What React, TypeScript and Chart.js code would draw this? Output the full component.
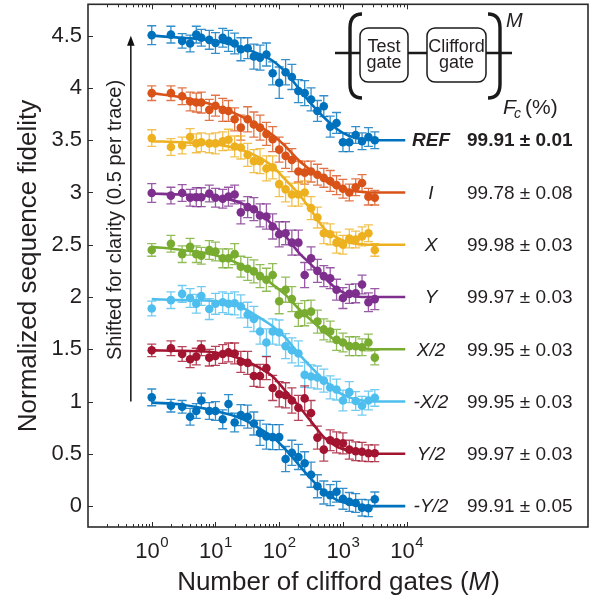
import React, { useEffect, useRef } from 'react';
import { Chart, registerables } from 'chart.js';

Chart.register(...registerables);

// ---------------- data ----------------
const X_VALUES = [1, 2, 3, 4, 5, 6, 8, 10, 13, 16, 20, 25, 32, 40, 50, 63, 79, 100, 126, 158, 200, 251, 316, 398, 501, 631, 794, 1000, 1259, 1585, 1995, 2512, 3162];

const REF_Y = [4.505, 4.51, 4.45, 4.425, 4.51, 4.48, 4.46, 4.43, 4.48, 4.45, 4.425, 4.37, 4.38, 4.30, 4.29, 4.32, 4.14, 4.05, 4.15, 4.105, 3.97, 3.95, 3.89, 3.78, 3.825, 3.63, 3.665, 3.48, 3.48, 3.55, 3.49, 3.53, 3.50];
const I_Y = [3.95, 3.95, 3.92, 3.87, 3.86, 3.86, 3.79, 3.83, 3.79, 3.78, 3.70, 3.62, 3.70, 3.65, 3.62, 3.56, 3.51, 3.41, 3.35, 3.31, 3.20, 3.19, 3.20, 3.17, 3.14, 3.11, 3.07, 3.035, 3.0, 3.05, 3.09, 2.96, 2.95];
const X_Y = [3.52, 3.435, 3.45, 3.53, 3.47, 3.48, 3.47, 3.47, 3.49, 3.505, 3.44, 3.43, 3.36, 3.30, 3.30, 3.23, 3.24, 3.08, 3.03, 2.98, 2.98, 3.00, 2.85, 2.76, 2.61, 2.60, 2.52, 2.50, 2.56, 2.55, 2.58, 2.61, 2.45];
const Y_Y = [2.995, 2.97, 2.995, 2.95, 2.955, 2.955, 2.99, 2.95, 2.94, 2.96, 2.98, 2.81, 2.86, 2.84, 2.78, 2.77, 2.675, 2.60, 2.61, 2.52, 2.52, 2.21, 2.37, 2.25, 2.20, 2.18, 2.07, 1.99, 2.03, 2.035, 2.12, 1.95, 1.98];
const X2_Y = [2.45, 2.51, 2.41, 2.48, 2.41, 2.395, 2.45, 2.435, 2.37, 2.37, 2.41, 2.29, 2.27, 2.245, 2.20, 2.165, 2.21, 1.96, 2.07, 1.98, 1.83, 1.845, 1.86, 1.765, 1.69, 1.67, 1.59, 1.565, 1.53, 1.53, 1.52, 1.565, 1.42];
const MX2_Y = [1.89, 1.97, 2.03, 1.99, 1.935, 2.01, 1.885, 1.935, 1.95, 1.935, 1.94, 1.91, 1.83, 1.79, 1.67, 1.565, 1.67, 1.66, 1.53, 1.49, 1.46, 1.255, 1.24, 1.23, 1.20, 1.135, 1.115, 1.01, 1.09, 1.005, 0.96, 1.01, 1.035];
const Y2_Y = [1.49, 1.51, 1.455, 1.405, 1.43, 1.51, 1.42, 1.437, 1.455, 1.47, 1.46, 1.38, 1.37, 1.245, 1.245, 1.32, 1.13, 1.07, 1.06, 1.01, 0.94, 1.03, 0.89, 0.655, 0.54, 0.63, 0.61, 0.60, 0.54, 0.525, 0.52, 0.505, 0.505];
const MY2_Y = [1.04, 0.96, 0.95, 0.855, 0.91, 1.01, 0.91, 0.91, 0.83, 0.977, 0.80, 0.87, 0.855, 0.79, 0.70, 0.665, 0.66, 0.66, 0.45, 0.51, 0.47, 0.41, 0.30, 0.19, 0.13, 0.105, 0.137, 0.07, 0.04, 0.03, -0.015, -0.02, 0.065];

const REF_ERR = [0.09, 0.08, 0.07, 0.08, 0.08, 0.08, 0.09, 0.10, 0.09, 0.10, 0.10, 0.11, 0.10, 0.12, 0.12, 0.11, 0.11, 0.15, 0.12, 0.12, 0.11, 0.12, 0.11, 0.10, 0.10, 0.10, 0.10, 0.09, 0.09, 0.08, 0.08, 0.09, 0.08];
const I_ERR = [0.07, 0.07, 0.08, 0.09, 0.09, 0.10, 0.10, 0.10, 0.11, 0.10, 0.11, 0.12, 0.12, 0.12, 0.12, 0.11, 0.12, 0.12, 0.12, 0.11, 0.10, 0.11, 0.10, 0.10, 0.09, 0.10, 0.09, 0.09, 0.08, 0.08, 0.08, 0.08, 0.07];
const X_ERR = [0.08, 0.08, 0.08, 0.08, 0.09, 0.09, 0.09, 0.10, 0.09, 0.10, 0.10, 0.11, 0.11, 0.11, 0.12, 0.12, 0.11, 0.12, 0.12, 0.11, 0.11, 0.11, 0.11, 0.10, 0.10, 0.10, 0.10, 0.09, 0.09, 0.08, 0.09, 0.08, 0.06];
const Y_ERR = [0.09, 0.08, 0.08, 0.08, 0.09, 0.09, 0.08, 0.09, 0.09, 0.09, 0.09, 0.11, 0.10, 0.11, 0.11, 0.12, 0.12, 0.12, 0.11, 0.12, 0.12, 0.12, 0.11, 0.11, 0.10, 0.10, 0.10, 0.10, 0.09, 0.09, 0.09, 0.09, 0.10];
const X2_ERR = [0.06, 0.08, 0.08, 0.08, 0.08, 0.08, 0.09, 0.09, 0.09, 0.09, 0.10, 0.10, 0.11, 0.11, 0.11, 0.11, 0.11, 0.12, 0.12, 0.12, 0.11, 0.12, 0.11, 0.11, 0.10, 0.10, 0.10, 0.09, 0.09, 0.09, 0.08, 0.08, 0.07];
const MX2_ERR = [0.07, 0.08, 0.08, 0.09, 0.09, 0.09, 0.10, 0.10, 0.10, 0.10, 0.11, 0.11, 0.12, 0.12, 0.12, 0.13, 0.12, 0.12, 0.12, 0.12, 0.12, 0.12, 0.11, 0.11, 0.11, 0.11, 0.10, 0.10, 0.10, 0.09, 0.09, 0.09, 0.08];
const Y2_ERR = [0.06, 0.07, 0.07, 0.08, 0.08, 0.07, 0.08, 0.09, 0.09, 0.09, 0.10, 0.10, 0.11, 0.10, 0.11, 0.11, 0.12, 0.12, 0.12, 0.12, 0.12, 0.12, 0.12, 0.11, 0.11, 0.10, 0.10, 0.10, 0.09, 0.09, 0.09, 0.08, 0.08];
const MY2_ERR = [0.08, 0.06, 0.06, 0.08, 0.07, 0.07, 0.08, 0.09, 0.09, 0.09, 0.09, 0.10, 0.11, 0.11, 0.12, 0.12, 0.12, 0.12, 0.12, 0.12, 0.12, 0.11, 0.12, 0.11, 0.11, 0.10, 0.10, 0.10, 0.09, 0.09, 0.08, 0.08, 0.07];

// fitted curves
const FIT_X = [1, 3, 10, 25, 50, 79, 126, 200, 316, 501, 794, 1259, 2000, 3162, 9500];
const REF_FIT = [4.50, 4.48, 4.45, 4.39, 4.32, 4.26, 4.15, 4.00, 3.85, 3.72, 3.61, 3.54, 3.51, 3.50, 3.50];
const I_FIT = [3.95, 3.91, 3.83, 3.73, 3.63, 3.55, 3.44, 3.31, 3.21, 3.12, 3.05, 3.02, 3.005, 3.0, 3.0];
const X_FIT = [3.49, 3.48, 3.46, 3.41, 3.33, 3.25, 3.12, 2.99, 2.83, 2.66, 2.57, 2.52, 2.505, 2.5, 2.5];
const Y_FIT = [2.99, 2.98, 2.96, 2.90, 2.80, 2.69, 2.58, 2.43, 2.31, 2.19, 2.08, 2.02, 2.0, 2.0, 2.0];
const X2_FIT = [2.48, 2.45, 2.40, 2.31, 2.21, 2.12, 2.02, 1.89, 1.78, 1.67, 1.58, 1.53, 1.51, 1.50, 1.50];
const MX2_FIT = [1.98, 1.97, 1.96, 1.905, 1.80, 1.72, 1.61, 1.46, 1.33, 1.21, 1.10, 1.04, 1.01, 1.0, 1.0];
const Y2_FIT = [1.49, 1.485, 1.47, 1.41, 1.32, 1.24, 1.10, 0.96, 0.81, 0.66, 0.57, 0.53, 0.51, 0.50, 0.50];
const MY2_FIT = [0.99, 0.97, 0.91, 0.84, 0.74, 0.66, 0.54, 0.40, 0.26, 0.14, 0.06, 0.02, 0.005, 0.0, 0.0];

const SERIES_NAMES = ['REF', 'I', 'X', 'Y', 'X/2', '-X/2', 'Y/2', '-Y/2'];
const FIDELITIES = ['99.91 ± 0.01', '99.78 ± 0.08', '99.98 ± 0.03', '99.97 ± 0.03', '99.95 ± 0.03', '99.95 ± 0.03', '99.97 ± 0.03', '99.91 ± 0.05'];
const OFFSETS = [3.5, 3.0, 2.5, 2.0, 1.5, 1.0, 0.5, 0.0];
const COLORS = ['#0072BD', '#D95319', '#EDB120', '#7E2F8E', '#77AC30', '#4DBEEE', '#A2142F', '#0072BD'];

const Y_TICKS = [0, 0.5, 1, 1.5, 2, 2.5, 3, 3.5, 4, 4.5];
const X_TICKS = [1, 10, 100, 1000, 10000];
const X_TICK_EXP = ['0', '1', '2', '3', '4'];

const POINTS = [REF_Y, I_Y, X_Y, Y_Y, X2_Y, MX2_Y, Y2_Y, MY2_Y];
const ERRORS = [REF_ERR, I_ERR, X_ERR, Y_ERR, X2_ERR, MX2_ERR, Y2_ERR, MY2_ERR];
const FITS = [REF_FIT, I_FIT, X_FIT, Y_FIT, X2_FIT, MX2_FIT, Y2_FIT, MY2_FIT];

const FONT = "'Liberation Sans', Arial, Helvetica, sans-serif";
const TEXT = '#231f20';

function rgba(hex: string, a: number) {
  const n = parseInt(hex.slice(1), 16);
  return `rgba(${(n >> 16) & 255},${(n >> 8) & 255},${n & 255},${a})`;
}

const overlay = {
  id: 'overlay',
  beforeDatasetsDraw(chart: any) {
    const { ctx, scales } = chart;
    const xs = scales.x;
    const ys = scales.y;
    ctx.save();
    ctx.lineWidth = 1.3;
    POINTS.forEach((vals, i) => {
      ctx.strokeStyle = rgba(COLORS[i], 0.8);
      vals.forEach((v, j) => {
        const px = xs.getPixelForValue(X_VALUES[j]);
        const t = ys.getPixelForValue(v + ERRORS[i][j]);
        const b = ys.getPixelForValue(v - ERRORS[i][j]);
        ctx.beginPath();
        ctx.moveTo(px, t);
        ctx.lineTo(px, b);
        ctx.moveTo(px - 4.5, t);
        ctx.lineTo(px + 4.5, t);
        ctx.moveTo(px - 4.5, b);
        ctx.lineTo(px + 4.5, b);
        ctx.stroke();
      });
    });
    ctx.restore();
  },
  afterDraw(chart: any) {
    const { ctx, scales, chartArea } = chart;
    const xs = scales.x;
    const ys = scales.y;
    const { left, right, top, bottom } = chartArea;
    ctx.save();

    // frame
    ctx.strokeStyle = '#2b2b2b';
    ctx.lineWidth = 1.6;
    ctx.strokeRect(left, top, right - left, bottom - top);

    // inward ticks
    ctx.lineWidth = 1;
    ctx.beginPath();
    Y_TICKS.forEach((v) => {
      const py = Math.round(ys.getPixelForValue(v)) + 0.5;
      ctx.moveTo(left, py);
      ctx.lineTo(left + 5, py);
    });
    for (let k = -1; k <= 4; k++) {
      for (let m = 1; m <= 9; m++) {
        const val = m * Math.pow(10, k);
        if (val < 0.15 || val > 10001) continue;
        const px = Math.round(xs.getPixelForValue(val)) + 0.5;
        const len = m === 1 ? 5 : 3;
        ctx.moveTo(px, bottom);
        ctx.lineTo(px, bottom - len);
        ctx.moveTo(px, top);
        ctx.lineTo(px, top + len);
      }
    }
    ctx.stroke();

    ctx.fillStyle = TEXT;
    // x tick labels 10^n
    X_TICKS.forEach((v, i) => {
      const px = xs.getPixelForValue(v);
      ctx.font = `22px ${FONT}`;
      const w1 = ctx.measureText('10').width;
      ctx.font = `15px ${FONT}`;
      const w2 = ctx.measureText(X_TICK_EXP[i]).width;
      const start = px - (w1 + w2) / 2;
      ctx.textBaseline = 'alphabetic';
      ctx.textAlign = 'left';
      ctx.font = `22px ${FONT}`;
      ctx.fillText('10', start, 558);
      ctx.font = `15px ${FONT}`;
      ctx.fillText(X_TICK_EXP[i], start + w1 + 0.5, 546.5);
    });

    // x title
    ctx.font = `26px ${FONT}`;
    const p1 = 'Number of clifford gates (';
    const wA = ctx.measureText(p1).width;
    ctx.font = `italic 26px ${FONT}`;
    const wM = ctx.measureText('M').width;
    ctx.font = `26px ${FONT}`;
    const wC = ctx.measureText(')').width;
    const sx = 338 - (wA + wM + wC) / 2;
    ctx.fillText(p1, sx, 590);
    ctx.font = `italic 26px ${FONT}`;
    ctx.fillText('M', sx + wA, 590);
    ctx.font = `26px ${FONT}`;
    ctx.fillText(')', sx + wA + wM + 1, 590);

    // y title
    ctx.save();
    ctx.translate(36, 266);
    ctx.rotate(-Math.PI / 2);
    ctx.textAlign = 'center';
    ctx.font = `26px ${FONT}`;
    ctx.fillText('Normalized sequence fidelity', 0, 0);
    ctx.restore();

    // shifted text + arrow
    ctx.save();
    ctx.translate(121, 220);
    ctx.rotate(-Math.PI / 2);
    ctx.textAlign = 'center';
    ctx.font = `20px ${FONT}`;
    ctx.fillText('Shifted for clarity (0.5 per trace)', 0, 0);
    ctx.restore();

    const ax = xs.getPixelForValue(0.47);
    const ayTop = ys.getPixelForValue(4.5);
    const ayBot = ys.getPixelForValue(1.0);
    ctx.strokeStyle = '#111';
    ctx.lineWidth = 1.5;
    ctx.beginPath();
    ctx.moveTo(ax, ayBot);
    ctx.lineTo(ax, ayTop + 8);
    ctx.stroke();
    ctx.fillStyle = '#111';
    ctx.beginPath();
    ctx.moveTo(ax, ayTop);
    ctx.lineTo(ax - 3.8, ayTop + 10);
    ctx.lineTo(ax + 3.8, ayTop + 10);
    ctx.closePath();
    ctx.fill();

    // right-side labels
    ctx.fillStyle = TEXT;
    ctx.textBaseline = 'middle';
    SERIES_NAMES.forEach((name, i) => {
      const py = ys.getPixelForValue(OFFSETS[i]) + 1;
      ctx.textAlign = 'center';
      ctx.font = `${i === 0 ? 'italic bold' : 'italic'} 19px ${FONT}`;
      ctx.fillText(name, 431, py);
      ctx.textAlign = 'left';
      ctx.font = `${i === 0 ? 'bold ' : ''}19px ${FONT}`;
      ctx.fillText(FIDELITIES[i], 467, py);
    });

    // F_c (%)
    ctx.textBaseline = 'alphabetic';
    ctx.textAlign = 'left';
    ctx.font = `italic 21px ${FONT}`;
    ctx.fillText('F', 503, 114);
    ctx.font = `italic 14px ${FONT}`;
    ctx.fillText('c', 514, 118);
    ctx.font = `21px ${FONT}`;
    ctx.fillText('(%)', 525, 114);

    // circuit diagram
    ctx.strokeStyle = '#1a1a1a';
    ctx.lineWidth = 2.6;
    ctx.beginPath();
    ctx.moveTo(335, 53);
    ctx.lineTo(512, 53);
    ctx.stroke();

    ctx.lineWidth = 3.4;
    ctx.beginPath();
    ctx.moveTo(362, 14);
    ctx.quadraticCurveTo(350, 14, 350, 28);
    ctx.lineTo(350, 84);
    ctx.quadraticCurveTo(350, 98, 362, 98);
    ctx.moveTo(488, 14);
    ctx.quadraticCurveTo(500, 14, 500, 28);
    ctx.lineTo(500, 84);
    ctx.quadraticCurveTo(500, 98, 488, 98);
    ctx.stroke();

    ctx.lineWidth = 1.5;
    const boxes = [
      [360, 28, 48, 54, 'Test', 'gate'],
      [427, 28, 59, 54, 'Clifford', 'gate'],
    ] as const;
    boxes.forEach(([bx, by, bw, bh, l1, l2]) => {
      ctx.beginPath();
      (ctx as any).roundRect(bx, by, bw, bh, 8);
      ctx.fillStyle = '#ffffff';
      ctx.fill();
      ctx.stroke();
      ctx.fillStyle = TEXT;
      ctx.textAlign = 'center';
      ctx.font = `18px ${FONT}`;
      ctx.fillText(l1, bx + bw / 2, 51.5);
      ctx.fillText(l2, bx + bw / 2, 68);
    });

    ctx.textAlign = 'left';
    ctx.font = `italic 20px ${FONT}`;
    ctx.fillText('M', 506, 27);

    ctx.restore();
  },
};

export default function App() {
  const ref = useRef<HTMLCanvasElement | null>(null);

  useEffect(() => {
    if (!ref.current) return;
    const datasets: any[] = [];
    POINTS.forEach((vals, i) => {
      datasets.push({
        type: 'line',
        data: FIT_X.map((x, k) => ({ x, y: FITS[i][k] })),
        borderColor: COLORS[i],
        borderWidth: 2.6,
        pointRadius: 0,
        cubicInterpolationMode: 'monotone',
        fill: false,
        order: 2,
      });
      datasets.push({
        type: 'scatter',
        data: X_VALUES.map((x, j) => ({ x, y: vals[j] })),
        backgroundColor: COLORS[i],
        borderColor: COLORS[i],
        borderWidth: 0,
        pointRadius: 4.3,
        showLine: false,
        order: 1,
      });
    });

    const chart = new Chart(ref.current, {
      type: 'scatter',
      data: { datasets },
      options: {
        animation: false,
        responsive: false,
        devicePixelRatio: 1,
        layout: { padding: { top: 4, right: 9, bottom: 75, left: 0 } },
        plugins: { legend: { display: false }, tooltip: { enabled: false } },
        scales: {
          x: {
            type: 'logarithmic',
            min: 0.1,
            max: 7e6,
            display: false,
          },
          y: {
            type: 'linear',
            min: -0.2,
            max: 4.8,
            afterBuildTicks: (s: any) => {
              s.ticks = Y_TICKS.map((v) => ({ value: v }));
            },
            afterFit: (s: any) => {
              s.width = 88;
              s.paddingTop = 0;
              s.paddingBottom = 0;
            },
            grid: { display: false, drawTicks: false },
            border: { display: false },
            ticks: {
              font: { family: FONT, size: 22 },
              color: TEXT,
              padding: 6,
              callback: (v: any) => String(v),
            },
          },
        },
      } as any,
      plugins: [overlay],
    });
    return () => chart.destroy();
  }, []);

  return (
    <div style={{ position: 'absolute', left: 0, top: 0, width: 597, height: 602, background: '#fff' }}>
      <canvas ref={ref} width={597} height={602} />
    </div>
  );
}
